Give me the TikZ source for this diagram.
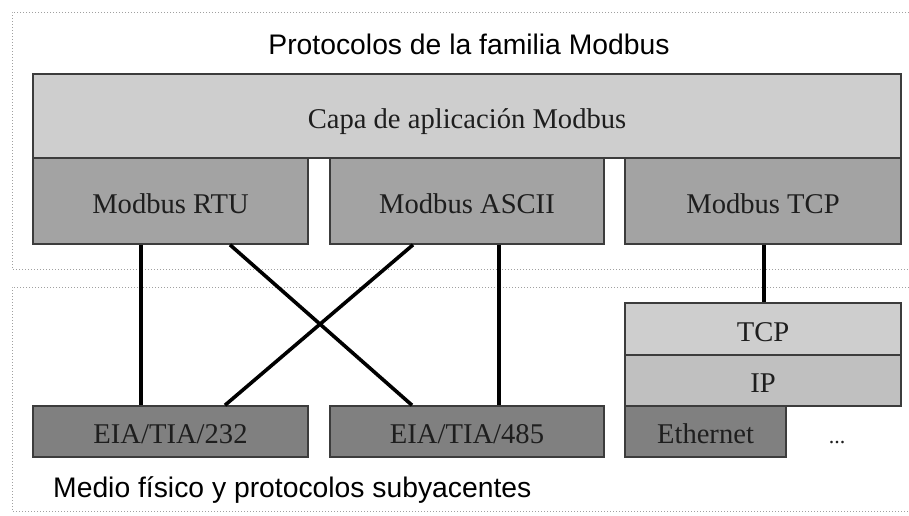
\documentclass[tikz,border=0pt]{standalone}
\usepackage{fontspec}
\setmainfont{Liberation Serif}
\newfontfamily\headsans{Liberation Sans}
\definecolor{lightfill}{HTML}{CECECE}
\definecolor{midfill}{HTML}{A3A3A3}
\definecolor{ipfill}{HTML}{C0C0C0}
\definecolor{darkfill}{HTML}{808080}
\definecolor{edgegray}{HTML}{3C3C3C}
\definecolor{textgray}{HTML}{1E1E1E}
\definecolor{dotgray}{HTML}{A0A0A0}
\tikzset{
  layer/.style={rectangle, draw=edgegray, line width=1.6pt, inner sep=0pt,
    text=textgray, font=\fontsize{28.6}{33}\selectfont,
    text height=24.5pt, text depth=0pt},
  link/.style={line width=3.6pt, black},
  frame/.style={dotgray, line width=1pt, dash pattern=on 1pt off 2pt},
  heading/.style={font=\headsans\fontsize{28.3}{33}\selectfont, text=black, inner sep=0pt}
}
\begin{document}
\begin{tikzpicture}[x=1pt, y=-1pt]
\useasboundingbox (0,0) rectangle (909,515);

% dotted frames of the two groups
\draw[frame] (909,12) -- (12,12) -- (12,269) -- (909,269);
\draw[frame] (909,287) -- (12,287) -- (12,511) -- (909,511);

% group titles
\node[heading, anchor=base] (title) at (469,54) {Protocolos de la familia Modbus};
\node[heading, anchor=base west] (medio) at (53,497) {Medio físico y protocolos subyacentes};

% upper layers
\node[layer, fill=lightfill, minimum width=868pt, minimum height=84pt] (capa) at (467,116) {Capa de aplicación Modbus};
\node[layer, fill=midfill, minimum width=275pt, minimum height=86pt] (rtu) at (170.5,201) {Modbus RTU};
\node[layer, fill=midfill, minimum width=274pt, minimum height=86pt] (ascii) at (467,201) {Modbus ASCII};
\node[layer, fill=midfill, minimum width=276pt, minimum height=86pt] (mtcp) at (763,201) {Modbus TCP};

% physical media and lower protocols
\node[layer, fill=darkfill, minimum width=275pt, minimum height=51pt] (eia232) at (170.5,431.5) {EIA/TIA/232};
\node[layer, fill=darkfill, minimum width=274pt, minimum height=51pt] (eia485) at (467,431.5) {EIA/TIA/485};
\node[layer, fill=lightfill, minimum width=276pt, minimum height=52pt] (tcp) at (763,329) {TCP};
\node[layer, fill=ipfill, minimum width=276pt, minimum height=51pt] (ip) at (763,380.5) {IP};
\node[layer, fill=darkfill, minimum width=161pt, minimum height=51pt] (eth) at (705.5,431.5) {Ethernet};
\node[anchor=base, inner sep=0pt, text=textgray, font=\fontsize{22}{26}\selectfont] (more) at (837,443) {...};

% connections
\draw[link] ([xshift=-29.5pt]rtu.south) -- ([xshift=-29.5pt]eia232.north);
\draw[link] ([xshift=59.5pt]rtu.south) -- ([xshift=-55pt]eia485.north);
\draw[link] ([xshift=-54pt]ascii.south) -- ([xshift=54.5pt]eia232.north);
\draw[link] ([xshift=32pt]ascii.south) -- ([xshift=32pt]eia485.north);
\draw[link] ([xshift=1pt]mtcp.south) -- ([xshift=1pt]tcp.north);
\end{tikzpicture}
\end{document}
